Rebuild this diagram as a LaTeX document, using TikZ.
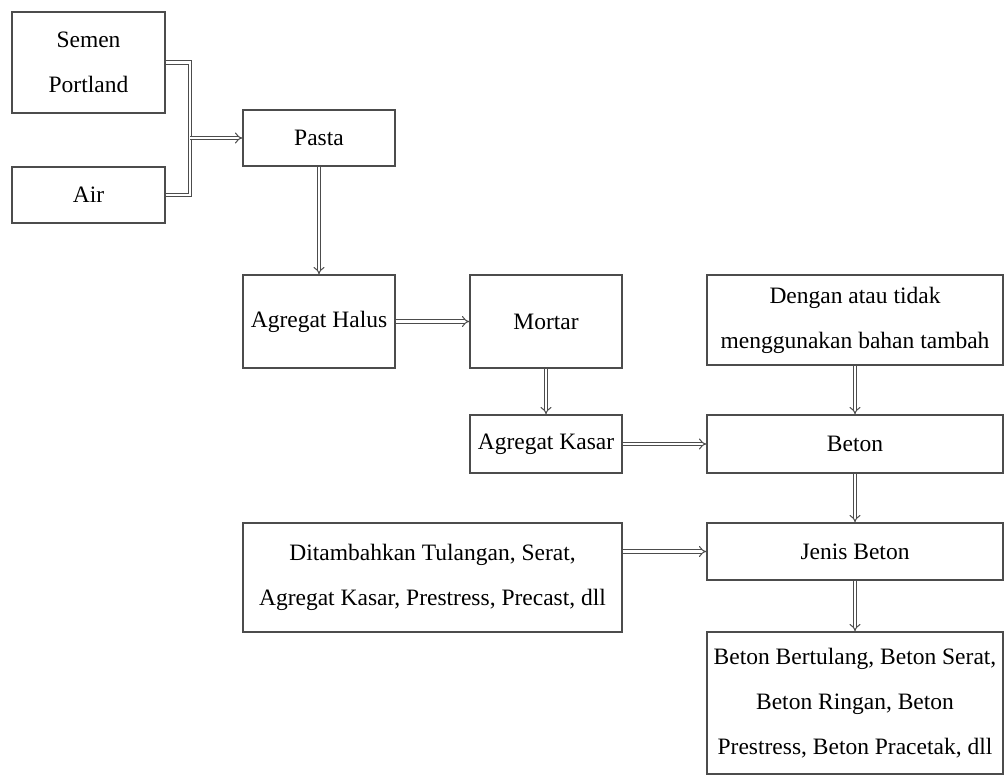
\documentclass[tikz,border=0pt]{standalone}
\usepackage{fontspec}
\setmainfont{Liberation Serif}
\usetikzlibrary{arrows.meta}
\begin{document}
\begin{tikzpicture}[x=1pt,y=-1pt,
  box/.style={draw=black!70, line width=1.3pt, fill=white, align=center, inner sep=2pt,
    font=\fontsize{23.5}{45}\selectfont},
  flow/.style={draw=black!70, line width=1pt, double=white, double distance=2.8pt,
    -{Implies[scale=1.8]}},
  link/.style={draw=black!70, line width=1pt, double=white, double distance=2.8pt}]
\useasboundingbox (0,0) rectangle (1007,776);
\node[box, minimum width=153pt, minimum height=101pt] (sp) at (88.5,62.5) {Semen\\Portland};
\node[box, minimum width=153pt, minimum height=56pt] (air) at (88.5,195) {Air};
\node[box, minimum width=152pt, minimum height=56pt] (pasta) at (319,138) {Pasta};
\node[box, minimum width=152pt, minimum height=93pt] (ah) at (319,321.5) {Agregat Halus};
\node[box, minimum width=152pt, minimum height=93pt] (mortar) at (546,321.5) {Mortar};
\node[box, minimum width=152pt, minimum height=58pt] (ak) at (546,444) {Agregat Kasar};
\node[box, minimum width=296pt, minimum height=90pt] (dengan) at (855,320) {Dengan atau tidak\\menggunakan bahan tambah};
\node[box, minimum width=296pt, minimum height=58pt] (beton) at (855,444) {Beton};
\node[box, minimum width=379pt, minimum height=109pt] (dt) at (432.5,577.5) {Ditambahkan Tulangan, Serat,\\Agregat Kasar, Prestress, Precast, dll};
\node[box, minimum width=296pt, minimum height=57pt] (jb) at (855,551.5) {Jenis Beton};
\node[box, minimum width=296pt, minimum height=142pt] (bb) at (855,703) {Beton Bertulang, Beton Serat,\\Beton Ringan, Beton\\Prestress, Beton Pracetak, dll};
\coordinate (j) at (190,138);
\draw[link] (sp.east) -| (j);
\draw[link] (air.east) -| (j);
\draw[flow] (j) -- (pasta.west);
\draw[flow] (pasta.south) -- (ah.north);
\draw[flow] (ah.east) -- (mortar.west);
\draw[flow] (mortar.south) -- (ak.north);
\draw[flow] (ak.east) -- (beton.west);
\draw[flow] (dengan.south) -- (beton.north);
\draw[flow] (beton.south) -- (jb.north);
\draw[flow] (dt.east |- jb.west) -- (jb.west);
\draw[flow] (jb.south) -- (bb.north);
\end{tikzpicture}
\end{document}
